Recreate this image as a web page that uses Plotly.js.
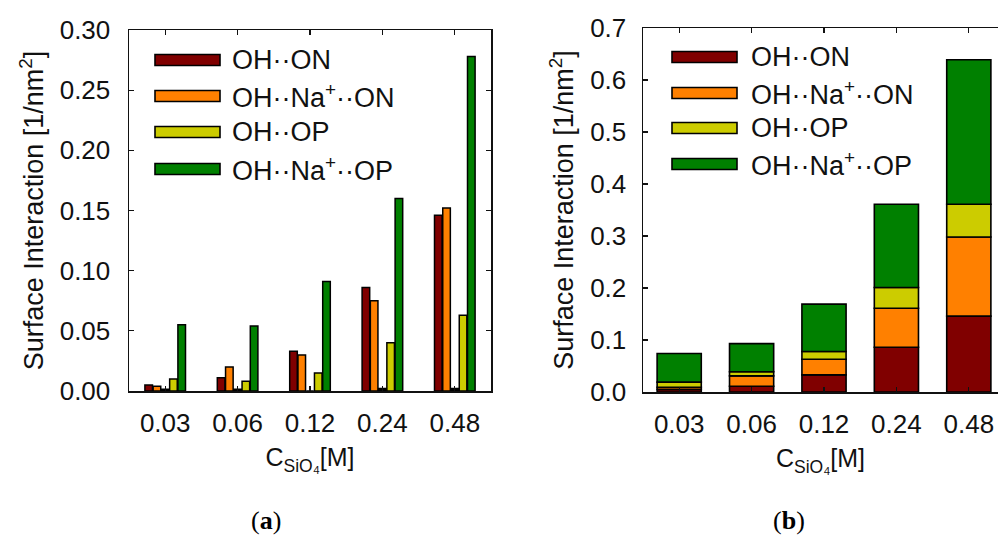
<!DOCTYPE html>
<html>
<head>
<meta charset="utf-8">
<script src="https://cdn.plot.ly/plotly-3.0.1.min.js"></script>
<style>
html,body{margin:0;padding:0;background:#fff;overflow:hidden;}
#chart{width:998px;height:537px;}
</style>
</head>
<body>
<div id="chart"></div>
<script>
// ---- data ----
const categories = ['0.03', '0.06', '0.12', '0.24', '0.48'];
const seriesNames = ['OH\u00B7\u00B7ON', 'OH\u00B7\u00B7Na<sup>+</sup>\u00B7\u00B7ON', 'OH\u00B7\u00B7OP', 'OH\u00B7\u00B7Na<sup>+</sup>\u00B7\u00B7OP'];
const ohON   = [0.005, 0.011, 0.033, 0.086, 0.146];
const ohNaON = [0.004, 0.020, 0.030, 0.075, 0.152];
const minor  = [0.0015, 0.0015, 0.0, 0.002, 0.002];
const ohOP   = [0.010, 0.008, 0.015, 0.040, 0.063];
const ohNaOP = [0.055, 0.054, 0.091, 0.160, 0.278];
const yTicksA = [0, 0.05, 0.10, 0.15, 0.20, 0.25, 0.30];
const yTicksB = [0, 0.1, 0.2, 0.3, 0.4, 0.5, 0.6, 0.7];

// ---- styles ----
const colors = ['#800000', '#FF8000', '#CCCC00', '#008000'];
const minorColor = '#000000';
const FONT = 'Liberation Sans, Arial, sans-serif';
const W = 998, H = 537;
const px = x => x / W;
const py = y => 1 - y / H;

const groupSeries = [ohON, ohNaON, minor, ohOP, ohNaOP];
const groupColors = [colors[0], colors[1], minorColor, colors[2], colors[3]];
const groupNames = [seriesNames[0], seriesNames[1], 'other', seriesNames[2], seriesNames[3]];
const stackSeries = [ohON, ohNaON, ohOP, ohNaOP];

const traces = [];
// panel (a): grouped
groupSeries.forEach((s, i) => {
  traces.push({
    type: 'bar', x: categories, y: s, name: groupNames[i],
    xaxis: 'x', yaxis: 'y', showlegend: false,
    marker: {color: groupColors[i], line: {color: '#000', width: 1.5}},
    hoverinfo: 'x+y+name'
  });
});
// panel (b): stacked (bases computed from the same data)
const cum = categories.map(() => 0);
stackSeries.forEach((s, i) => {
  const base = cum.slice();
  s.forEach((v, k) => { cum[k] += v; });
  traces.push({
    type: 'bar', x: categories, y: s, base: base, name: seriesNames[i],
    xaxis: 'x2', yaxis: 'y2', showlegend: false, offsetgroup: 'stack', width: 0.61,
    marker: {color: colors[i], line: {color: '#000', width: 1.6}},
    hoverinfo: 'x+y+name'
  });
});

const tickFont = {family: FONT, size: 26, color: '#111'};
const titleFont = {family: FONT, size: 27, color: '#111'};
const xTitleFont = {family: FONT, size: 25, color: '#111'};
const xTitle = 'C<sub>SiO\u2084</sub>[M]';
const yTitle = 'Surface Interaction [1/nm<sup>2</sup>]';

function xAxis(domain, range, anchor) {
  return {
    domain: domain, anchor: anchor, type: 'category', range: range,
    showline: true, linecolor: '#111', linewidth: 1.5, mirror: 'ticks',
    ticks: 'inside', ticklen: 5, tickcolor: '#111', tickwidth: 1.3,
    tickfont: tickFont, ticklabelstandoff: 8, showgrid: false, zeroline: false,
    title: {text: xTitle, font: xTitleFont, standoff: 12}
  };
}

const shapes = [];
const annotations = [];
function legend(x0, x1, xt, rows) {
  rows.forEach((yc, i) => {
    shapes.push({type: 'rect', xref: 'paper', yref: 'paper',
      x0: px(x0), x1: px(x1), y0: py(yc + 5.5), y1: py(yc - 5.5),
      fillcolor: colors[i], line: {color: '#000', width: 1.6}});
    annotations.push({xref: 'paper', yref: 'paper', x: px(xt), y: py(yc),
      xanchor: 'left', yanchor: 'middle', showarrow: false, text: seriesNames[i],
      font: {family: FONT, size: 27, color: '#111'}});
  });
}
legend(155, 220, 230, [60, 96, 132, 169]);
legend(672, 737, 749, [57, 93, 128, 164]);

const labelFont = {family: 'Liberation Serif, Times New Roman, serif', size: 26, color: '#000'};
annotations.push({xref: 'paper', yref: 'paper', x: px(266), y: py(520), xanchor: 'center', yanchor: 'middle',
  showarrow: false, text: '(<b>a</b>)', font: labelFont});
annotations.push({xref: 'paper', yref: 'paper', x: px(789), y: py(520), xanchor: 'center', yanchor: 'middle',
  showarrow: false, text: '(<b>b</b>)', font: labelFont});

const layout = {
  width: W, height: H, autosize: false,
  margin: {l: 0, r: 0, t: 0, b: 0},
  paper_bgcolor: '#fff', plot_bgcolor: '#fff',
  barmode: 'group', bargap: 0.43, bargroupgap: 0.08,
  showlegend: false,
  xaxis: xAxis([px(129), px(491)], [-0.5, 4.5], 'y'),
  yaxis: {
    domain: [py(391), py(30)], anchor: 'x', range: [0, 0.30],
    tickvals: yTicksA, tickformat: '.2f',
    showline: true, linecolor: '#111', linewidth: 1.5, mirror: 'ticks',
    ticks: 'inside', ticklen: 5, tickcolor: '#111', tickwidth: 1.3,
    tickfont: tickFont, ticklabelstandoff: 12, showgrid: false, zeroline: false,
    title: {text: yTitle, font: titleFont, standoff: 8}
  },
  xaxis2: xAxis([px(643), 1], [-0.5, 4.5 - 7 / 72.4], 'y2'),
  yaxis2: {
    domain: [py(392), py(28)], anchor: 'x2', range: [0, 0.7],
    tickvals: yTicksB, tickformat: '.1f',
    showline: true, linecolor: '#111', linewidth: 1.5, mirror: false,
    ticks: 'inside', ticklen: 5, tickcolor: '#111', tickwidth: 1.3,
    tickfont: tickFont, ticklabelstandoff: 10, showgrid: false, zeroline: false,
    title: {text: yTitle, font: titleFont, standoff: 8}
  },
  shapes: shapes,
  annotations: annotations
};

Plotly.newPlot('chart', traces, layout, {displayModeBar: false, staticPlot: true});
</script>
</body>
</html>
